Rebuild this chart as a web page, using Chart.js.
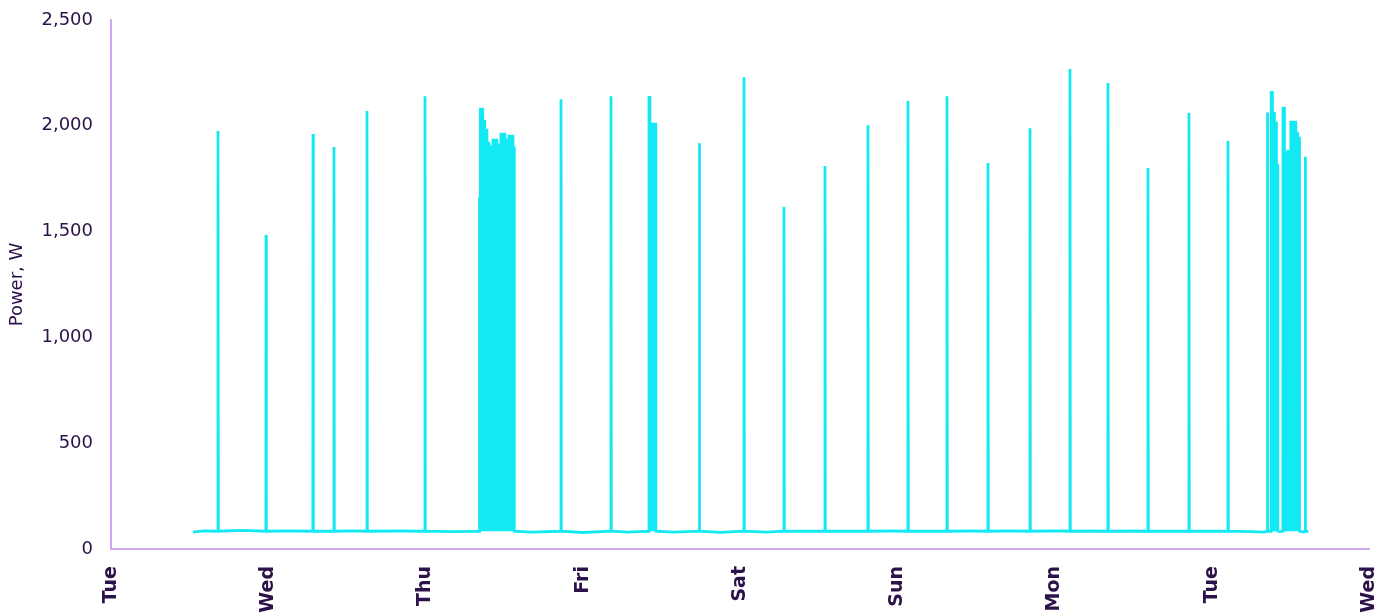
<!DOCTYPE html>
<html>
<head>
<meta charset="utf-8">
<script src="https://cdn.jsdelivr.net/npm/chart.js@4"></script>
<style>
  html, body { margin: 0; padding: 0; background: #fff; overflow: hidden; }
</style>
</head>
<body>
<canvas id="powerChart" width="1397" height="616"></canvas>
<script>
const dayLabels = ['Tue', 'Wed', 'Thu', 'Fri', 'Sat', 'Sun', 'Mon', 'Tue', 'Wed'];

// hours since Tue 00:00
const idleLevel = 84;
const idleHours = [12.5, 14.2, 20.0, 27.0, 33.0, 37.0, 44.0, 52.0, 55.0, 64.0, 72.0, 79.0, 86.0, 93.0, 100.0, 106.0, 112.0, 119.0, 125.0, 131.0, 137.0, 144.0, 150.0, 156.0, 162.0, 168.0, 174.0, 176.0, 178.4, 182.0, 182.75];
const idleWatts = [80, 86, 88, 86, 84, 86, 85, 82, 83, 80, 78, 80, 80, 79, 80, 84, 84, 85, 84, 85, 86, 86, 85, 85, 84, 84, 82, 80, 82, 80, 82];

const spikeHours = [16.33, 23.66, 30.83, 34.03, 39.07, 47.92, 68.68, 76.31, 89.8, 96.61, 102.71, 108.97, 115.53, 121.64, 127.59, 133.85, 140.26, 146.36, 152.16, 158.27, 164.52, 170.48, 176.49, 182.27];
const spikeWatts = [1975, 1484, 1961, 1900, 2070, 2140, 2126, 2140, 1918, 2230, 1616, 1810, 2003, 2117, 2140, 1824, 1989, 2268, 2202, 1800, 2060, 1928, 2063, 1854];

// rapid on/off cycling, read as its envelope
const burstHours = [
  56.23, 56.25, 56.35, 56.37, 56.71, 56.73, 57.02, 57.04, 57.37, 57.39, 57.67, 57.69, 58.28, 58.30,
  58.89, 58.91, 59.50, 59.52, 60.11, 60.13, 60.72, 60.74, 61.33, 61.35, 61.53, 61.55,
  82.08, 82.11, 82.24, 82.26, 83.13, 83.15,
  177.05, 177.07, 177.24, 177.26, 177.55, 177.57, 177.85, 177.87, 178.06, 178.08,
  178.86, 178.88, 179.07, 179.09, 179.53, 179.55, 180.05, 180.07, 180.81, 180.83, 181.11, 181.13, 181.37, 181.39
];
const burstWatts = [
  84, 1658, 1658, 2079, 2079, 2022, 2022, 1980, 1980, 1918, 1918, 1900, 1900, 1932,
  1932, 1909, 1909, 1961, 1961, 1932, 1932, 1951, 1951, 1895, 1895, 84,
  84, 2134, 2134, 2008, 2008, 84,
  84, 2158, 2158, 2060, 2060, 2014, 2014, 1814, 1814, 84,
  84, 2084, 2084, 1866, 1866, 1878, 1878, 2017, 2017, 1965, 1965, 1942, 1942, 84
];

const yTicks = [0, 500, 1000, 1500, 2000, 2500];

const lineColor = '#12e9f2';
const axisColor = '#cfa8f3';
const textColor = '#2b1248';

const series = [];
idleHours.forEach((h, i) => series.push({ x: h, y: idleWatts[i] }));
spikeHours.forEach((h, i) => {
  series.push({ x: h - 0.02, y: idleLevel }, { x: h, y: spikeWatts[i] }, { x: h + 0.05, y: idleLevel });
});
burstHours.forEach((h, i) => series.push({ x: h, y: burstWatts[i] }));
series.sort((a, b) => a.x - b.x);

new Chart(document.getElementById('powerChart'), {
  type: 'line',
  data: {
    datasets: [{
      data: series,
      borderColor: lineColor,
      backgroundColor: lineColor,
      borderWidth: 2.8,
      pointRadius: 0,
      tension: 0,
      fill: { value: idleLevel }
    }]
  },
  options: {
    responsive: false,
    animation: false,
    layout: { padding: { top: 20, right: 28, left: 0, bottom: 0 } },
    plugins: { legend: { display: false }, tooltip: { enabled: false } },
    scales: {
      x: {
        type: 'linear',
        min: 0,
        max: 192,
        afterFit: s => { s.height = 67; s.paddingLeft = 0; s.paddingRight = 0; },
        grid: { display: false, drawTicks: false },
        border: { color: axisColor, width: 2 },
        ticks: {
          stepSize: 24,
          autoSkip: false,
          minRotation: 90,
          maxRotation: 90,
          padding: 17,
          color: textColor,
          font: { family: 'DejaVu Sans', size: 19, weight: 'bold' },
          callback: v => dayLabels[Math.round(v / 24)]
        }
      },
      y: {
        min: 0,
        max: 2500,
        afterFit: s => { s.width = 111; s.paddingTop = 0; s.paddingBottom = 0; },
        afterBuildTicks: s => { s.ticks = yTicks.map(v => ({ value: v })); },
        grid: { display: false, drawTicks: false },
        border: { color: axisColor, width: 2 },
        ticks: {
          padding: 18,
          color: textColor,
          font: { family: 'DejaVu Sans', size: 18 },
          callback: v => v.toLocaleString('en-US')
        },
        title: {
          display: true,
          text: 'Power, W',
          color: textColor,
          padding: { top: 7, bottom: 4 },
          font: { family: 'DejaVu Sans', size: 18 }
        }
      }
    }
  }
});
</script>
</body>
</html>
